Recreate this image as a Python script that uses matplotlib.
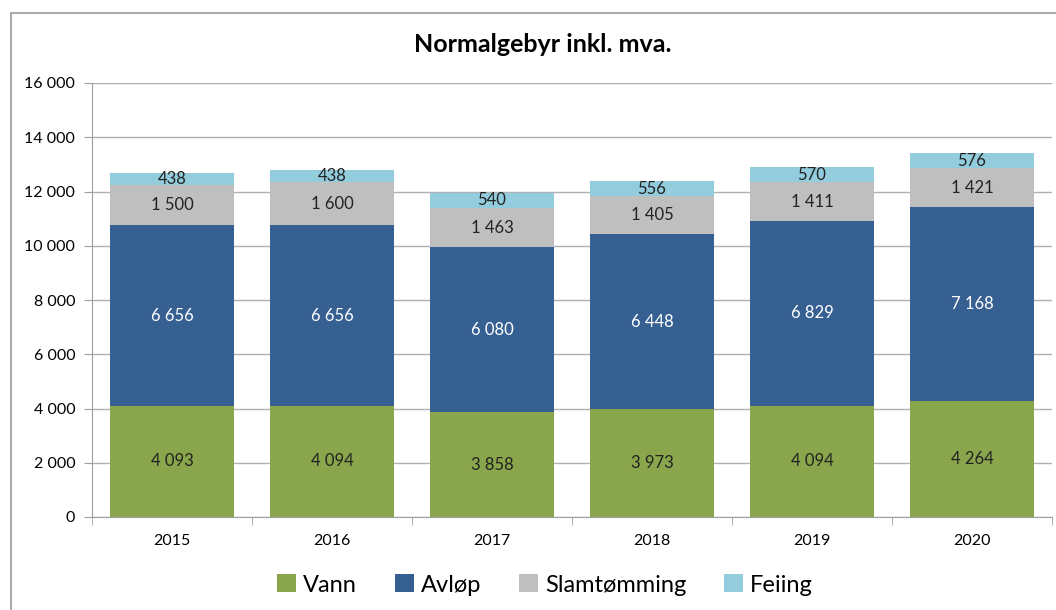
import matplotlib
matplotlib.use("Agg")
import matplotlib.pyplot as plt
from matplotlib.patches import Rectangle
from matplotlib.ticker import FuncFormatter
import numpy as np

plt.rcParams['font.family'] = ['Lato', 'DejaVu Sans']

# Data
years = ["2015", "2016", "2017", "2018", "2019", "2020"]
vann = [4093, 4094, 3858, 3973, 4094, 4264]
avlop = [6656, 6656, 6080, 6448, 6829, 7168]
slam = [1500, 1600, 1463, 1405, 1411, 1421]
feiing = [438, 438, 540, 556, 570, 576]

series = [("Vann", vann, "#8aa64c", "#222222"),
          ("Avløp", avlop, "#376092", "white"),
          ("Slamtømming", slam, "#bfbfbf", "#222222"),
          ("Feiing", feiing, "#93cddd", "#222222")]


def fmt(v):
    return f"{int(v):,}".replace(",", " ")


fig = plt.figure(figsize=(10.56, 6.1), dpi=100)
ax = fig.add_axes([92 / 1056, 93 / 610, 960 / 1056, 434 / 610])

# outer chart frame
fig.patches.append(Rectangle((11 / 1056, -0.05), 1.2, 0.05 + 597 / 610,
                             transform=fig.transFigure, fill=False,
                             edgecolor="#a0a0a0", linewidth=1.3))

x = np.arange(len(years))
bottom = np.zeros(len(years))
for name, vals, color, tcol in series:
    ax.bar(x, vals, bottom=bottom, width=0.78, color=color, label=name, zorder=2)
    for xi, b, v in zip(x, bottom, vals):
        ax.text(xi, b + v / 2, fmt(v), ha="center", va="center",
                fontsize=12, color=tcol, zorder=3)
    bottom += np.array(vals)

ax.set_xlim(-0.5, len(years) - 0.5)
ax.set_ylim(0, 16000)
ax.set_yticks(range(0, 16001, 2000))
ax.yaxis.set_major_formatter(FuncFormatter(lambda v, p: fmt(v)))
ax.set_xticks(x)
ax.set_xticklabels(years)
ax.set_xticks(np.arange(-0.5, len(years)), minor=True)
ax.tick_params(axis="x", which="major", length=0, pad=12, labelsize=11.5)
ax.tick_params(axis="x", which="minor", length=6, color="#a0a0a0")
ax.tick_params(axis="y", length=6, color="#a0a0a0", labelsize=11.5, pad=6)
ax.grid(axis="y", color="#b0b0b0", linewidth=1, zorder=0)

for s in ["top", "right"]:
    ax.spines[s].set_visible(False)
for s in ["left", "bottom"]:
    ax.spines[s].set_color("#a0a0a0")

fig.text(0.514, 1 - 45 / 610, "Normalgebyr inkl. mva.", ha="center", va="center",
         fontsize=18, fontweight="bold")

fig.legend(loc="center", bbox_to_anchor=(0.516, 1 - 585 / 610), ncol=4,
           frameon=False, fontsize=17, handlelength=0.8, handleheight=0.8,
           handletextpad=0.3, columnspacing=1.6)

fig.savefig("out.png", dpi=100)
